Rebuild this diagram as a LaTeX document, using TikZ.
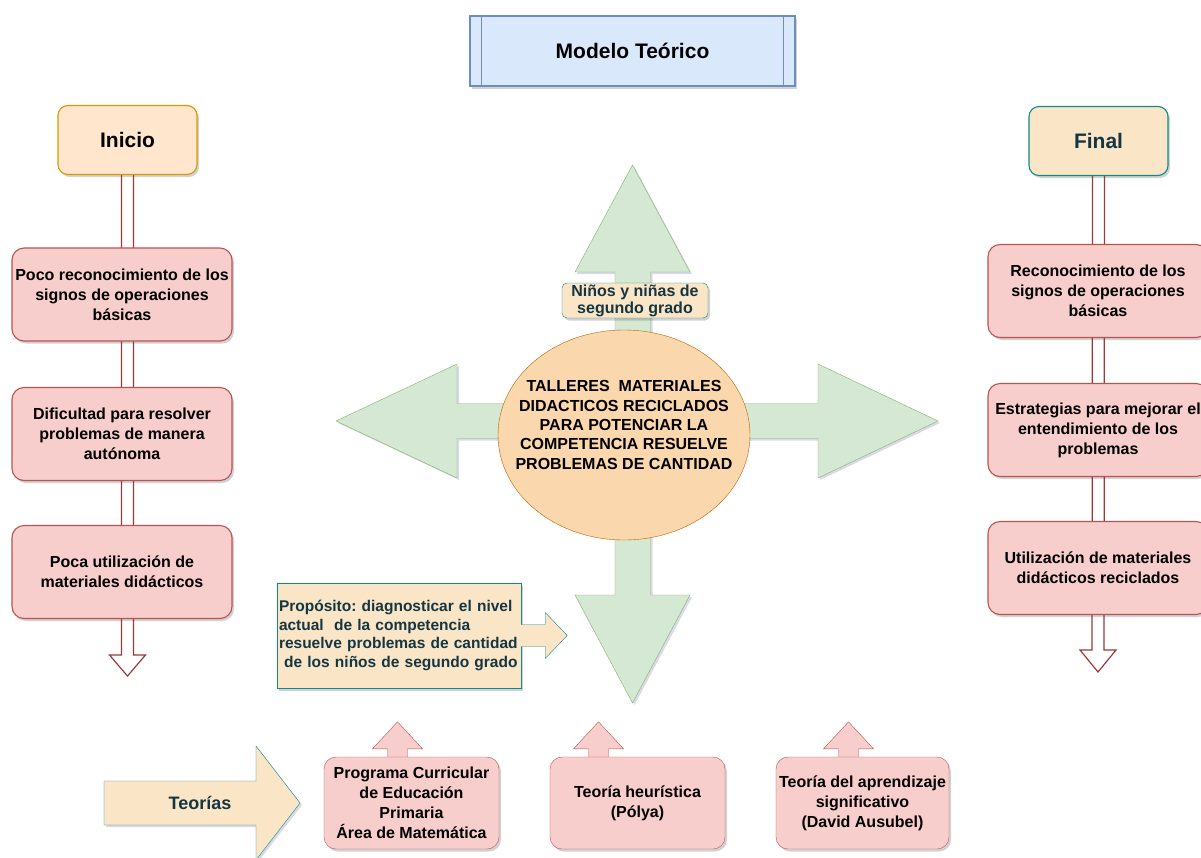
\documentclass[tikz,border=0pt]{standalone}
\usepackage{fontspec}
\setmainfont{Liberation Sans}
\usetikzlibrary{shapes.geometric,shadows,calc,backgrounds}
\definecolor{redfill}{HTML}{F8CECC}
\definecolor{redline}{HTML}{B85450}
\definecolor{darkred}{HTML}{9A3B38}
\definecolor{tealfill}{HTML}{FAE5C7}
\definecolor{tealline}{HTML}{0F8B8D}
\definecolor{tealtext}{HTML}{143642}
\definecolor{orfill}{HTML}{FFE6CC}
\definecolor{orline}{HTML}{D79B00}
\definecolor{bluefill}{HTML}{DAE8FC}
\definecolor{blueline}{HTML}{6C8EBF}
\definecolor{grfill}{HTML}{D5E8D4}
\definecolor{grline}{HTML}{82B366}
\definecolor{elfill}{HTML}{FAD7AC}
\definecolor{elline}{HTML}{B46504}
\frenchspacing
\begin{document}
\begin{tikzpicture}[x=1pt,y=-1pt,line width=1.1pt,
  shad/.style={drop shadow={shadow xshift=2pt,shadow yshift=-2.5pt,opacity=0.25,fill=black!70}},
  lshad/.style={drop shadow={shadow xshift=2pt,shadow yshift=-2pt,opacity=0.15,fill=blue!40!black}},
  txt/.style={font=\fontsize{16}{20}\selectfont\bfseries, align=center, inner sep=1pt},
  redbox/.style={txt, rounded corners=12pt, fill=redfill, draw=redline, shad},
  sidebox/.style={redbox, minimum width=220pt, minimum height=93pt},
  botbox/.style={redbox, minimum width=175pt, minimum height=92pt},
  headbox/.style={txt, font=\fontsize{21}{24}\selectfont\bfseries, rounded corners=10pt,
    minimum width=139pt, minimum height=69pt, shad},
  tealshape/.style={fill=tealfill, draw=tealline},
  hollowarr/.style={fill=white, draw=darkred, line width=1.2pt},
  smallarr/.style={fill=redfill, draw=redline},
  uparr/.pic={\draw[smallarr] (-10,0) -- (-10,-8) -- (-25,-8) -- (0,-35) -- (25,-8) -- (10,-8) -- (10,0);}
]
\useasboundingbox (0,0) rectangle (1201,857);
\clip (0,0) rectangle (1201,857);

% title
\node[txt, font=\fontsize{21}{24}\selectfont\bfseries, fill=bluefill, draw=blueline,
  minimum width=325pt, minimum height=70pt, shad] (title) at (632.5,51) {Modelo Teórico};
\draw[blueline] ($(title.north west)+(12,0)$) -- ($(title.south west)+(12,0)$);
\draw[blueline] ($(title.north east)+(-12,0)$) -- ($(title.south east)+(-12,0)$);

% left column
\node[headbox, fill=orfill, draw=orline] (inicio) at (127.5,140) {Inicio};
\node[sidebox] (l1) at (122,294.5) {Poco reconocimiento de los\\signos de operaciones\\básicas};
\node[sidebox] (l2) at (122,434) {Dificultad para resolver\\problemas de manera\\autónoma};
\node[sidebox] (l3) at (122,572) {Poca utilización de\\materiales didácticos};
\coordinate (ltip) at (127.5,676);

% right column
\node[headbox, fill=tealfill, draw=tealline, text=tealtext] (final) at (1098.5,141) {Final};
\node[sidebox] (r1) at (1098,291) {Reconocimiento de los\\signos de operaciones\\básicas};
\node[sidebox] (r2) at (1098,430) {Estrategias para mejorar el\\entendimiento de los\\problemas};
\node[sidebox] (r3) at (1098,568) {Utilización de materiales\\didácticos reciclados};
\coordinate (rtip) at (1098,672);

\begin{pgfonlayer}{background}
\fill[white] (0,0) rectangle (1201,857);
\draw[hollowarr] ($(inicio.south)+(-6,0)$) -- ($(ltip)+(-6,-21)$) -- ($(ltip)+(-18,-21)$) -- (ltip)
  -- ($(ltip)+(18,-21)$) -- ($(ltip)+(6,-21)$) -- ($(inicio.south)+(6,0)$);
\draw[hollowarr] ($(final.south)+(-6,0)$) -- ($(rtip)+(-6,-22)$) -- ($(rtip)+(-18,-22)$) -- (rtip)
  -- ($(rtip)+(18,-22)$) -- ($(rtip)+(6,-22)$) -- ($(final.south)+(6,0)$);
\end{pgfonlayer}

% central cross of arrows
\draw[fill=grfill, draw=grline, line join=miter, lshad]
  (632.5,165) -- (690,272) -- (650.5,272) -- (650.5,403.5) -- (818,403.5) -- (818,364) -- (938,421)
  -- (818,478) -- (818,438.5) -- (650.5,438.5) -- (650.5,595) -- (690,595) -- (632.5,703) -- (575,595)
  -- (615,595) -- (615,438.5) -- (457,438.5) -- (457,478) -- (336,421) -- (457,364) -- (457,403.5)
  -- (615,403.5) -- (615,272) -- (575,272) -- cycle;

\node[ellipse, fill=elfill, draw=elline, minimum width=252pt, minimum height=210pt, inner sep=0pt] (core) at (624,435) {};
\node[txt, font=\fontsize{16}{19.3}\selectfont\bfseries] (coretext) at (624,425)
  {TALLERES\ \ MATERIALES\\DIDACTICOS RECICLADOS\\PARA POTENCIAR LA\\COMPETENCIA RESUELVE\\PROBLEMAS DE CANTIDAD};

\node[txt, font=\fontsize{16}{17}\selectfont\bfseries, tealshape, text=tealtext, rounded corners=5pt,
  minimum width=146pt, minimum height=35pt, inner sep=0pt, shad] (ninos) at (635,300.5) {Niños y niñas de\\segundo grado};

% proposito callout
\node[txt, font=\fontsize{15.5}{18.6}\selectfont\bfseries, align=left, text=tealtext, tealshape,
  text width=240pt, inner xsep=2pt, inner ysep=0pt, minimum height=105pt, shad] (prop) at (399,635.5)
  {Propósito: diagnosticar el nivel\\actual\ \ de la competencia\\resuelve problemas de cantidad\\\ de los niños de segundo grado};
\draw[tealshape, line join=miter] ($(prop.east)+(0,-11)$) -- ($(prop.east)+(24,-11)$) -- ($(prop.east)+(24,-23)$)
  -- ($(prop.east)+(46,0)$) -- ($(prop.east)+(24,23)$) -- ($(prop.east)+(24,11)$) -- ($(prop.east)+(0,11)$);

% theories
\draw[tealshape, line join=miter, lshad] (104,781) -- (256,781) -- (256,746) -- (300,803) -- (256,860) -- (256,825) -- (104,825) -- cycle;
\node[txt, font=\fontsize{18}{20}\selectfont\bfseries, text=tealtext] (teor) at (200,803) {Teorías};

\node[botbox] (prog) at (411.5,803) {Programa Curricular\\de Educación\\Primaria\\Área de Matemática};
\node[botbox] (heur) at (637.5,803) {Teoría heurística\\(Pólya)};
\node[botbox, minimum width=173pt] (ausu) at (862.5,803) {Teoría del aprendizaje\\significativo\\(David Ausubel)};
\begin{pgfonlayer}{background}
\pic at ($(prog.north)+(-14,0)$) {uparr};
\pic at ($(heur.north)+(-39,0)$) {uparr};
\pic at ($(ausu.north)+(-14,0)$) {uparr};
\end{pgfonlayer}
\end{tikzpicture}
\end{document}
